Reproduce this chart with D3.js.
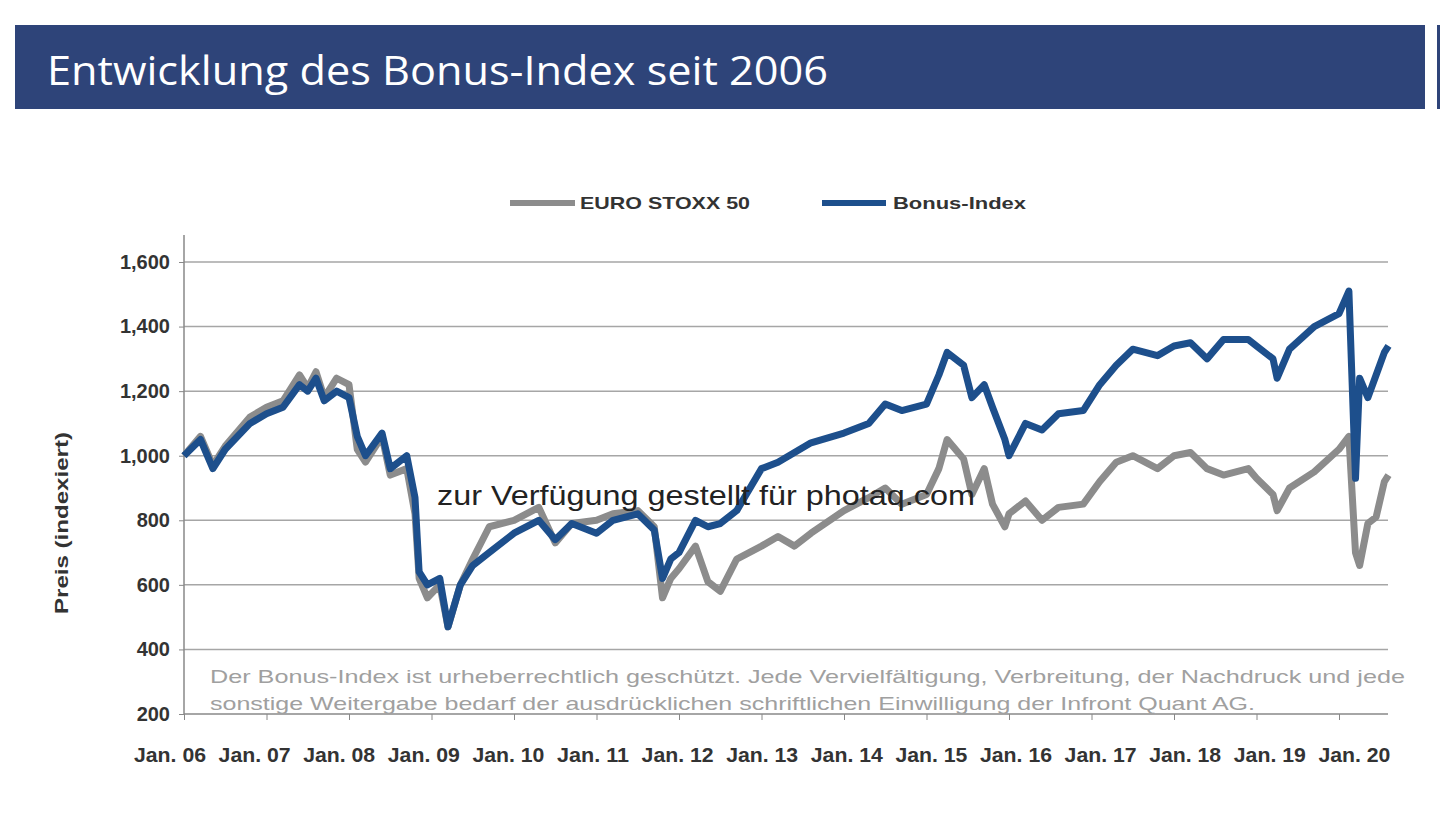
<!DOCTYPE html>
<html><head><meta charset="utf-8">
<script src="https://cdn.jsdelivr.net/npm/d3@7"></script>
<style>body{margin:0;background:#fff}</style></head>
<body><svg id="c" width="1440" height="835"></svg>
<script>
const years = [0,0.2,0.35,0.5,0.8,1.0,1.2,1.4,1.5,1.6,1.7,1.85,2.0,2.1,2.2,2.4,2.5,2.7,2.8,2.85,2.95,3.1,3.2,3.35,3.5,3.7,4.0,4.3,4.5,4.7,5.0,5.2,5.5,5.7,5.8,5.9,6.0,6.2,6.35,6.5,6.7,7.0,7.2,7.4,7.6,8.0,8.3,8.5,8.7,9.0,9.15,9.25,9.45,9.55,9.7,9.8,9.95,10.0,10.2,10.4,10.6,10.9,11.1,11.3,11.5,11.8,12.0,12.2,12.4,12.6,12.9,13.0,13.2,13.25,13.4,13.7,14.0,14.12,14.2,14.25,14.35,14.45,14.55,14.6];
const bonus = [1000,1050,960,1020,1100,1130,1150,1220,1200,1240,1170,1200,1180,1060,1000,1070,960,1000,870,640,600,620,470,600,660,700,760,800,740,790,760,800,820,770,620,680,700,800,780,790,830,960,980,1010,1040,1070,1100,1160,1140,1160,1250,1320,1280,1180,1220,1150,1050,1000,1100,1080,1130,1140,1220,1280,1330,1310,1340,1350,1300,1360,1360,1340,1300,1240,1330,1400,1440,1510,930,1240,1180,1250,1320,1340];
const stoxx = [1000,1060,970,1030,1120,1150,1170,1250,1210,1260,1180,1240,1220,1020,980,1060,940,960,820,620,560,600,470,600,680,780,800,840,730,790,800,820,830,780,560,620,650,720,610,580,680,720,750,720,760,830,870,900,850,880,960,1050,990,880,960,850,780,820,860,800,840,850,920,980,1000,960,1000,1010,960,940,960,930,880,830,900,950,1020,1060,700,660,790,810,920,940];
const yTicks = [200,400,600,800,1000,1200,1400,1600];
const xLabels = ["Jan. 06","Jan. 07","Jan. 08","Jan. 09","Jan. 10","Jan. 11","Jan. 12","Jan. 13","Jan. 14","Jan. 15","Jan. 16","Jan. 17","Jan. 18","Jan. 19","Jan. 20"];

const F = "Liberation Sans, Arial";
const svg = d3.select("#c");
svg.append("rect").attr("x",15).attr("y",25).attr("width",1410).attr("height",84).attr("fill","#2e4479");
svg.append("rect").attr("x",1437).attr("y",25).attr("width",3).attr("height",84).attr("fill","#2e4479");
svg.append("text").attr("x",47).attr("y",85).attr("fill","#fff").attr("font-family","Open Sans, sans-serif").attr("font-size",40).attr("textLength",781).attr("lengthAdjust","spacingAndGlyphs").text("Entwicklung des Bonus-Index seit 2006");

const x = d3.scaleLinear().domain([0,14]).range([184,1339]);
const y = d3.scaleLinear().domain([200,1600]).range([714,262]);
const g = svg.append("g");
yTicks.forEach(v=>{ if(v>200) g.append("line").attr("x1",184).attr("x2",1388).attr("y1",y(v)).attr("y2",y(v)).attr("stroke","#a6a6a6").attr("stroke-width",1.5); });
g.append("g").attr("transform","translate(184,0)").call(d3.axisLeft(y).tickValues(yTicks).tickFormat(d3.format(",")).tickSize(5))
 .call(a=>{a.select(".domain").attr("stroke","#888").attr("stroke-width",1.5).attr("d","M0,235V714");a.selectAll("line").attr("stroke","#888");a.selectAll("text").attr("font-family",F).attr("font-weight","bold").attr("font-size",20).attr("fill","#333").attr("dx",-6);});
g.append("g").attr("transform","translate(0,714)").call(d3.axisBottom(x).tickValues(d3.range(0,15)).tickFormat("").tickSize(6))
 .call(a=>{a.select(".domain").attr("stroke","#888").attr("stroke-width",1.5).attr("d","M184,0H1388");a.selectAll("line").attr("stroke","#888");});
xLabels.forEach((l,i)=>g.append("text").attr("x",170+i*84.6).attr("y",762).attr("text-anchor","middle").attr("font-family",F).attr("font-weight","bold").attr("font-size",20).attr("textLength",72).attr("lengthAdjust","spacingAndGlyphs").attr("fill","#333").text(l));
svg.append("text").attr("transform","translate(68,523) rotate(-90)").attr("text-anchor","middle").attr("font-family",F).attr("font-weight","bold").attr("font-size",19).attr("textLength",182).attr("lengthAdjust","spacingAndGlyphs").attr("fill","#333").text("Preis (indexiert)");

const line = d3.line().x((d,i)=>x(years[i])).y(d=>y(d));
g.append("path").attr("d",line(stoxx)).attr("fill","none").attr("stroke","#8c8c8c").attr("stroke-width",7).attr("stroke-linejoin","round");
g.append("path").attr("d",line(bonus)).attr("fill","none").attr("stroke","#1d4f8c").attr("stroke-width",7).attr("stroke-linejoin","round");

// legend
svg.append("line").attr("x1",510).attr("x2",575).attr("y1",203).attr("y2",203).attr("stroke","#8c8c8c").attr("stroke-width",6);
svg.append("text").attr("x",580).attr("y",209).attr("font-family",F).attr("font-weight","bold").attr("font-size",17).attr("textLength",170).attr("lengthAdjust","spacingAndGlyphs").attr("fill","#333").text("EURO STOXX 50");
svg.append("line").attr("x1",822).attr("x2",886).attr("y1",203).attr("y2",203).attr("stroke","#1d4f8c").attr("stroke-width",6);
svg.append("text").attr("x",893).attr("y",209).attr("font-family",F).attr("font-weight","bold").attr("font-size",17).attr("textLength",133).attr("lengthAdjust","spacingAndGlyphs").attr("fill","#333").text("Bonus-Index");

// notes
svg.append("text").attr("x",210).attr("y",683).attr("font-family",F).attr("font-size",19).attr("textLength",1195).attr("lengthAdjust","spacingAndGlyphs").attr("fill","#a0a0a0").text("Der Bonus-Index ist urheberrechtlich geschützt. Jede Vervielfältigung, Verbreitung, der Nachdruck und jede");
svg.append("text").attr("x",210).attr("y",710).attr("font-family",F).attr("font-size",19).attr("textLength",1045).attr("lengthAdjust","spacingAndGlyphs").attr("fill","#a0a0a0").text("sonstige Weitergabe bedarf der ausdrücklichen schriftlichen Einwilligung der Infront Quant AG.");
svg.append("text").attr("x",437).attr("y",505).attr("font-family",F).attr("font-size",28).attr("textLength",538).attr("lengthAdjust","spacingAndGlyphs").attr("fill","#222").text("zur Verfügung gestellt für photaq.com");
</script></body></html>
